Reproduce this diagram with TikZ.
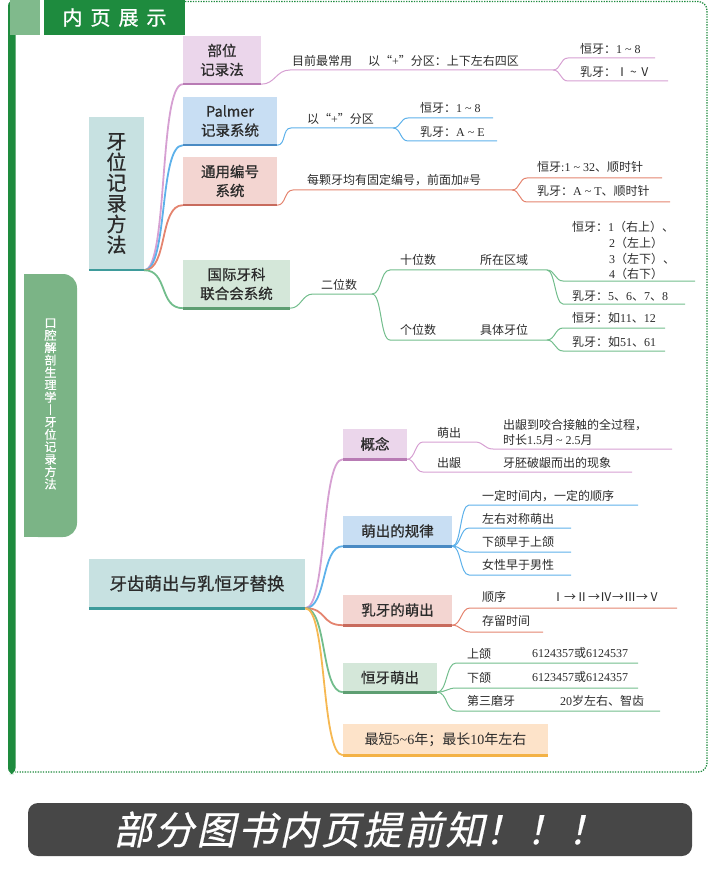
\documentclass[tikz,border=0pt]{standalone}
\usepackage{fontspec}
\setmainfont{Noto Sans CJK SC}
\newfontfamily\cjkb[FakeBold=0.8]{Noto Sans CJK SC}
\newfontfamily\cjks[FakeSlant=0.22,FakeBold=0.6]{Noto Sans CJK SC}
\newfontfamily\lat{Liberation Serif}
\newcommand\myfs[1]{\fontsize{#1}{#1}\selectfont}
\definecolor{dg}{HTML}{1E8B3E}
\definecolor{lg}{HTML}{80BA8C}
\definecolor{side}{HTML}{7BB486}
\definecolor{tealF}{HTML}{C7E1E1}
\definecolor{tealD}{HTML}{3E9B9B}
\definecolor{purF}{HTML}{EBD6EB}
\definecolor{purD}{HTML}{B87BB4}
\definecolor{purL}{HTML}{D6A0D2}
\definecolor{bluF}{HTML}{C8DEF3}
\definecolor{bluD}{HTML}{4A8AC3}
\definecolor{bluL}{HTML}{5DB1EA}
\definecolor{salF}{HTML}{F3D5D1}
\definecolor{salD}{HTML}{C86B5D}
\definecolor{salL}{HTML}{E4846F}
\definecolor{grnF}{HTML}{D4E7D9}
\definecolor{grnD}{HTML}{5E9E72}
\definecolor{grnL}{HTML}{72BD8C}
\definecolor{orgF}{HTML}{FDE3C9}
\definecolor{orgD}{HTML}{F3B246}
\definecolor{orgL}{HTML}{F6B852}
\definecolor{ban}{HTML}{474747}
\definecolor{txt}{HTML}{2B2B2B}
\tikzset{
  bx/.style={fill=#1, inner sep=0pt, align=center, font=\cjkb\fontsize{14.5}{19}\selectfont, text=txt},
  lbl/.style={anchor=base west, inner sep=0pt, font=\myfs{12}, text=txt},
  ul/.style={line width=2.6pt},
  sl/.style={line width=1pt},
  rl/.style={line width=1.8pt},
  mmc/.style={out=0,in=180,distance=#1},
}
\begin{document}
\begin{tikzpicture}[x=1pt,y=-1pt]
\useasboundingbox (0,0) rectangle (720,882);
% ---------- frame ----------
\draw[dg, line width=1.3pt, dash pattern=on 1.3pt off 1.3pt, rounded corners=9pt] (185,1.5) -- (707,1.5) -- (707,772) -- (15,772);
\fill[dg, rounded corners=6pt] (8,0) rectangle (15.5,774);
\fill[lg] (10,0) rectangle (40,35);
\node[fill=dg, minimum width=141pt, minimum height=35pt, inner sep=0pt, text=white, font=\cjkb\myfs{20}] (hdr) at (114.5,17.5) {内\hspace{8pt}页\hspace{8pt}展\hspace{8pt}示};
% ---------- side label ----------
\fill[side, rounded corners=14pt] (24,274) rectangle (77,537);
\fill[side] (24,274) rectangle (50,537);
\node[inner sep=0pt, text=white, align=center, font=\cjkb\fontsize{12}{12.4}\selectfont] (sidelbl) at (50.5,404)
  {口\\腔\\解\\剖\\生\\理\\学\\︱\\牙\\位\\记\\录\\方\\法};
% ---------- mind map 1 ----------
\node[bx=tealF, minimum width=55pt, minimum height=153pt, font=\cjkb\fontsize{20}{20.7}\selectfont] (rA) at (116.5,193.5) {牙\\位\\记\\录\\方\\法};
\draw[ul,tealD] (rA.south west) -- (rA.south east);
\node[bx=purF, minimum width=78pt, minimum height=48pt] (a1) at (222,60) {部位\\记录法};
\node[bx=bluF, minimum width=94pt, minimum height=48pt] (a2) at (230,121) {Palmer\\记录系统};
\node[bx=salF, minimum width=94pt, minimum height=48pt] (a3) at (230,181) {通用编号\\系统};
\node[bx=grnF, minimum width=107pt, minimum height=48pt] (a4) at (236.5,284) {国际牙科\\联合会系统};
\draw[rl,purL] (rA.south east) to[mmc=24pt] (a1.south west);
\draw[rl,bluL] (rA.south east) to[mmc=24pt] (a2.south west);
\draw[rl,salL] (rA.south east) to[mmc=24pt] (a3.south west);
\draw[rl,grnL] (rA.south east) to[mmc=24pt] (a4.south west);
\draw[ul,purD] (a1.south west) -- (a1.south east);
\draw[ul,bluD] (a2.south west) -- (a2.south east);
\draw[ul,salD] (a3.south west) -- (a3.south east);
\draw[ul,grnD] (a4.south west) -- (a4.south east);
% branch 1
\coordinate (p1s) at (290,70); \coordinate (p1e) at (553,70);
\coordinate (p1u) at (568,58); \coordinate (p1ue) at (655,58);
\coordinate (p1d) at (568,81); \coordinate (p1de) at (668,81);
\draw[sl,purL] (a1.south east) to[mmc=14pt] (p1s) -- (p1e) to[mmc=8pt] (p1u) -- (p1ue);
\draw[sl,purL] (p1e) to[mmc=8pt] (p1d) -- (p1de);
\node[lbl] (t11) at (292,66) {目前最常用};
\node[lbl] (t12) at (368,66) {以“{\lat +}”分区：上下左右四区};
\node[lbl] (t13) at (580,54) {恒牙：{\lat 1 \textasciitilde\ 8}};
\node[lbl] (t14) at (580,77) {乳牙：Ⅰ\,\textasciitilde\,Ⅴ};
% branch 2
\coordinate (p2s) at (291,128); \coordinate (p2e) at (393,128);
\coordinate (p2u) at (408,118); \coordinate (p2ue) at (493,118);
\coordinate (p2d) at (408,141); \coordinate (p2de) at (497,141);
\draw[sl,bluL] (a2.south east) to[mmc=9pt] (p2s) -- (p2e) to[mmc=8pt] (p2u) -- (p2ue);
\draw[sl,bluL] (p2e) to[mmc=8pt] (p2d) -- (p2de);
\node[lbl] (t21) at (307,124) {以“{\lat +}”分区};
\node[lbl] (t22) at (420,113) {恒牙：{\lat 1 \textasciitilde\ 8}};
\node[lbl] (t23) at (420,137) {乳牙：{\lat A \textasciitilde\ E}};
% branch 3
\coordinate (p3s) at (293,190); \coordinate (p3e) at (512,190);
\coordinate (p3u) at (527,178); \coordinate (p3ue) at (662,178);
\coordinate (p3d) at (527,202); \coordinate (p3de) at (670,202);
\draw[sl,salL] (a3.south east) to[mmc=9pt] (p3s) -- (p3e) to[mmc=8pt] (p3u) -- (p3ue);
\draw[sl,salL] (p3e) to[mmc=8pt] (p3d) -- (p3de);
\node[lbl] (t31) at (307,185) {每颗牙均有固定编号，前面加{\lat \#}号};
\node[lbl] (t32) at (537,172) {恒牙{\lat :1 \textasciitilde\ 32}、顺时针};
\node[lbl] (t33) at (537,196) {乳牙：{\lat A \textasciitilde\ T}、顺时针};
% branch 4
\coordinate (p4s) at (313,294); \coordinate (p4e) at (372,294);
\coordinate (p4u) at (390,270); \coordinate (p4ue) at (547,270);
\coordinate (p4d) at (390,340); \coordinate (p4de) at (547,340);
\coordinate (p5u) at (563,281); \coordinate (p5ue) at (695,281);
\coordinate (p5d) at (563,304); \coordinate (p5de) at (685,304);
\coordinate (p6u) at (563,328); \coordinate (p6ue) at (665,328);
\coordinate (p6d) at (563,351); \coordinate (p6de) at (665,351);
\draw[sl,grnL] (a4.south east) to[mmc=11pt] (p4s) -- (p4e) to[mmc=10pt] (p4u) -- (p4ue) to[mmc=8pt] (p5u) -- (p5ue);
\draw[sl,grnL] (p4e) to[mmc=10pt] (p4d) -- (p4de) to[mmc=8pt] (p6u) -- (p6ue);
\draw[sl,grnL] (p4ue) to[mmc=8pt] (p5d) -- (p5de);
\draw[sl,grnL] (p4de) to[mmc=8pt] (p6d) -- (p6de);
\node[lbl] (t41) at (321,289) {二位数};
\node[lbl] (t42) at (400,265) {十位数};
\node[lbl] (t43) at (480,265) {所在区域};
\node[lbl] (t44) at (400,334) {个位数};
\node[lbl] (t45) at (480,334) {具体牙位};
\node[lbl] (t46) at (572,232) {恒牙：{\lat 1}（右上）、};
\node[lbl] (t47) at (609,248) {{\lat 2}（左上）};
\node[lbl] (t48) at (609,264) {{\lat 3}（左下）、};
\node[lbl] (t49) at (609,279) {{\lat 4}（右下）};
\node[lbl] (t4a) at (572,300) {乳牙：{\lat 5}、{\lat 6}、{\lat 7}、{\lat 8}};
\node[lbl] (t4b) at (572,322) {恒牙：如{\lat 11}、{\lat 12}};
\node[lbl] (t4c) at (572,346) {乳牙：如{\lat 51}、{\lat 61}};
% ---------- mind map 2 ----------
\node[bx=tealF, minimum width=216pt, minimum height=49pt, font=\cjkb\myfs{17.5}] (rB) at (197,583.5) {牙齿萌出与乳恒牙替换};
\draw[ul,tealD] (rB.south west) -- (rB.south east);
\node[bx=purF, minimum width=64pt, minimum height=30pt] (c1) at (375,444) {概念};
\node[bx=bluF, minimum width=109pt, minimum height=30pt] (c2) at (397.5,531) {萌出的规律};
\node[bx=salF, minimum width=109pt, minimum height=30pt] (c3) at (397.5,610) {乳牙的萌出};
\node[bx=grnF, minimum width=94pt, minimum height=29pt] (c4) at (390,677.5) {恒牙萌出};
\node[bx=orgF, minimum width=205pt, minimum height=31pt, font=\myfs{14}] (c5) at (445.5,739.5) {最短{\lat 5\textasciitilde 6}年；最长{\lat 10}年左右};
\draw[rl,purL] (rB.south east) to[mmc=22pt] (c1.south west);
\draw[rl,bluL] (rB.south east) to[mmc=22pt] (c2.south west);
\draw[rl,salL] (rB.south east) to[mmc=22pt] (c3.south west);
\draw[rl,grnL] (rB.south east) to[mmc=22pt] (c4.south west);
\draw[rl,orgL] (rB.south east) to[mmc=22pt] (c5.south west);
\draw[ul,purD] (c1.south west) -- (c1.south east);
\draw[ul,bluD] (c2.south west) -- (c2.south east);
\draw[ul,salD] (c3.south west) -- (c3.south east);
\draw[ul,grnD] (c4.south west) -- (c4.south east);
\draw[ul,orgD] (c5.south west) -- (c5.south east);
% concept
\coordinate (q1u) at (423,442); \coordinate (q1m) at (475,442);
\coordinate (q1v) at (493,449); \coordinate (q1ve) at (672,449);
\coordinate (q1d) at (423,472); \coordinate (q1de) at (632,472);
\draw[sl,purL] (c1.south east) to[mmc=8pt] (q1u) -- (q1m) to[mmc=9pt] (q1v) -- (q1ve);
\draw[sl,purL] (c1.south east) to[mmc=8pt] (q1d) -- (q1de);
\node[lbl] (u1) at (437,437) {萌出};
\node[lbl] (u2) at (437,467) {出龈};
\node[lbl] (u3) at (503,429) {出龈到咬合接触的全过程，};
\node[lbl] (u4) at (503,444) {时长{\lat 1.5}月\,{\lat \textasciitilde\ 2.5}月};
\node[lbl] (u5) at (503,467) {牙胚破龈而出的现象};
% rules
\coordinate (q2a) at (469,505); \coordinate (q2ae) at (638,505);
\coordinate (q2b) at (469,528); \coordinate (q2be) at (571,528);
\coordinate (q2c) at (469,552); \coordinate (q2ce) at (571,552);
\coordinate (q2d) at (469,575); \coordinate (q2de) at (571,575);
\draw[sl,bluL] (c2.south east) to[mmc=9pt] (q2a) -- (q2ae);
\draw[sl,bluL] (c2.south east) to[mmc=9pt] (q2b) -- (q2be);
\draw[sl,bluL] (c2.south east) to[mmc=9pt] (q2c) -- (q2ce);
\draw[sl,bluL] (c2.south east) to[mmc=9pt] (q2d) -- (q2de);
\node[lbl] (v1) at (482,500) {一定时间内，一定的顺序};
\node[lbl] (v2) at (482,523) {左右对称萌出};
\node[lbl] (v3) at (482,546) {下颌早于上颌};
\node[lbl] (v4) at (482,569) {女性早于男性};
% deciduous
\coordinate (q3a) at (470,608); \coordinate (q3ae) at (677,608);
\coordinate (q3b) at (470,632); \coordinate (q3be) at (543,632);
\draw[sl,salL] (c3.south east) to[mmc=9pt] (q3a) -- (q3ae);
\draw[sl,salL] (c3.south east) to[mmc=8pt] (q3b) -- (q3be);
\node[lbl] (w1) at (482,601) {顺序};
\node[lbl] (w2) at (552,601) {Ⅰ→Ⅱ→Ⅳ→Ⅲ→Ⅴ};
\node[lbl] (w3) at (482,625) {存留时间};
% permanent
\coordinate (q4a) at (456,663); \coordinate (q4ae) at (638,663);
\coordinate (q4b) at (456,688); \coordinate (q4be) at (638,688);
\coordinate (q4c) at (456,711); \coordinate (q4ce) at (660,711);
\draw[sl,grnL] (c4.south east) to[mmc=10pt] (q4a) -- (q4ae);
\draw[sl,grnL] (c4.south east) to[mmc=8pt] (q4b) -- (q4be);
\draw[sl,grnL] (c4.south east) to[mmc=10pt] (q4c) -- (q4ce);
\node[lbl] (x1) at (467,658) {上颌};
\node[lbl] (x2) at (532,657) {{\lat 6124357}或{\lat 6124537}};
\node[lbl] (x3) at (467,682) {下颌};
\node[lbl] (x4) at (532,681) {{\lat 6123457}或{\lat 6124357}};
\node[lbl] (x5) at (467,705) {第三磨牙};
\node[lbl] (x6) at (560,705) {{\lat 20}岁左右、智齿};
% ---------- banner ----------
\node[fill=ban, rounded corners=10pt, minimum width=664pt, minimum height=53pt, inner sep=0pt, text=white, font=\cjks\myfs{39}] (banner) at (360,829.5) {部\hspace{2.5pt}分\hspace{2.5pt}图\hspace{2.5pt}书\hspace{2.5pt}内\hspace{2.5pt}页\hspace{2.5pt}提\hspace{2.5pt}前\hspace{2.5pt}知！\hspace{2.5pt}！\hspace{2.5pt}！};
\end{tikzpicture}
\end{document}
